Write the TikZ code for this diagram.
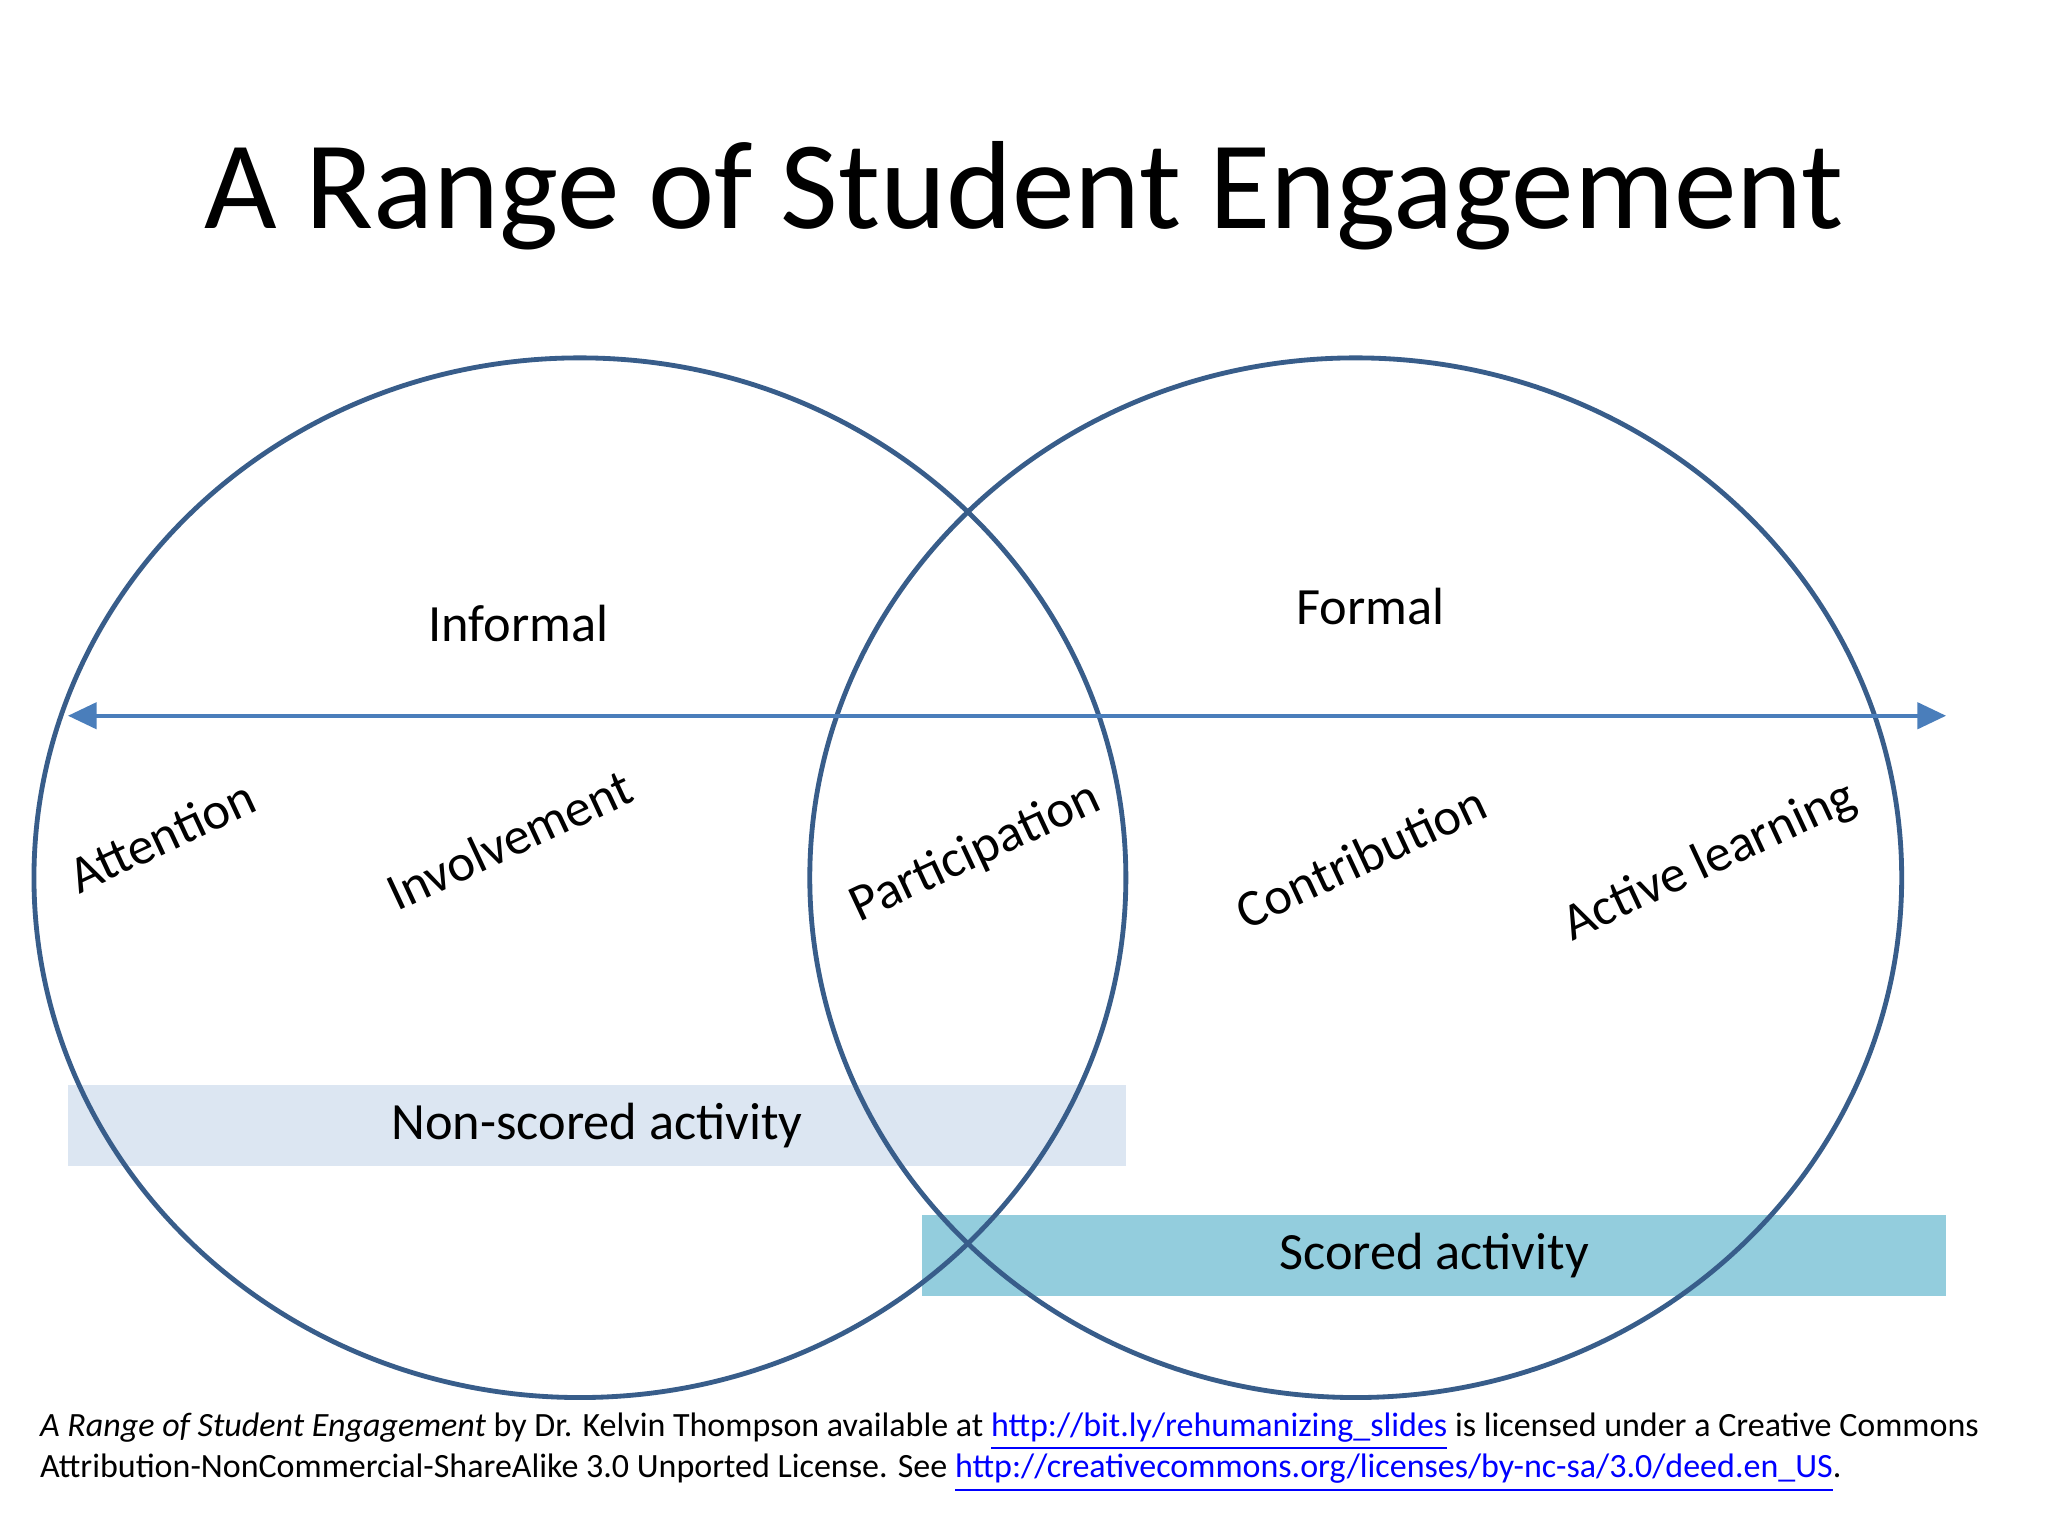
\documentclass[tikz,border=0pt]{standalone}
\usepackage{fontspec}
\setmainfont{Carlito}
\usetikzlibrary{arrows.meta}
\definecolor{circ}{HTML}{385D8A}
\definecolor{arr}{HTML}{4A7EBB}
\definecolor{nonsc}{HTML}{DCE6F2}
\definecolor{sc}{HTML}{93CDDD}
\definecolor{lnk}{HTML}{0000FF}
\newcommand{\lnktxt}[1]{\textcolor{lnk}{\underline{#1}}}
\tikzset{
  ring/.style={draw=circ,line width=1.05pt},
  lab/.style={font=\fontsize{11.4pt}{13pt}\selectfont,rotate=25},
  plain/.style={font=\fontsize{11.4pt}{13pt}\selectfont},
  band/.style={font=\fontsize{11.4pt}{13pt}\selectfont,minimum height=0.62cm,inner sep=0pt}
}
\begin{document}
\begin{tikzpicture}[x=0.01cm,y=-0.01cm]
\useasboundingbox (0,0) rectangle (1568,1176);
\fill[white] (0,0) rectangle (1568,1176);
\node (title) at (784,150) {\fontsize{27.3pt}{31pt}\selectfont A Range of Student Engagement};
\node[band,fill=nonsc,minimum width=8.1cm] (ns) at (457,862) {Non-scored activity};
\node[band,fill=sc,minimum width=7.84cm] (s) at (1098,961) {Scored activity};
\draw[ring] (444,672) ellipse [x radius=418, y radius=398];
\draw[ring] (1038,672) ellipse [x radius=418, y radius=398];
\coordinate (aL) at (52,548);
\coordinate (aR) at (1490,548);
\draw[arr,line width=0.9pt,{Triangle[length=0.22cm,width=0.2cm]}-{Triangle[length=0.22cm,width=0.2cm]}] (aL) -- (aR);
\node[plain] (inf) at (397,477) {Informal};
\node[plain] (for) at (1049,464) {Formal};
\node[lab] (att) at (124,640) {Attention};
\node[lab] (inv) at (390,643) {Involvement};
\node[lab] (par) at (747,653) {Participation};
\node[lab] (con) at (1042,656) {Contribution};
\node[lab] (act) at (1309,660) {Active learning};
\node[anchor=west,inner sep=0pt,font=\fontsize{7.4pt}{9pt}\selectfont,align=left] (foot) at (30,1112)
{\textit{A Range of Student Engagement} by Dr. Kelvin Thompson available at \lnktxt{http://bit.ly/rehumanizing\_slides} is licensed under a Creative Commons\\
Attribution-NonCommercial-ShareAlike 3.0 Unported License. See \lnktxt{http://creativecommons.org/licenses/by-nc-sa/3.0/deed.en\_US}.};
\end{tikzpicture}
\end{document}
